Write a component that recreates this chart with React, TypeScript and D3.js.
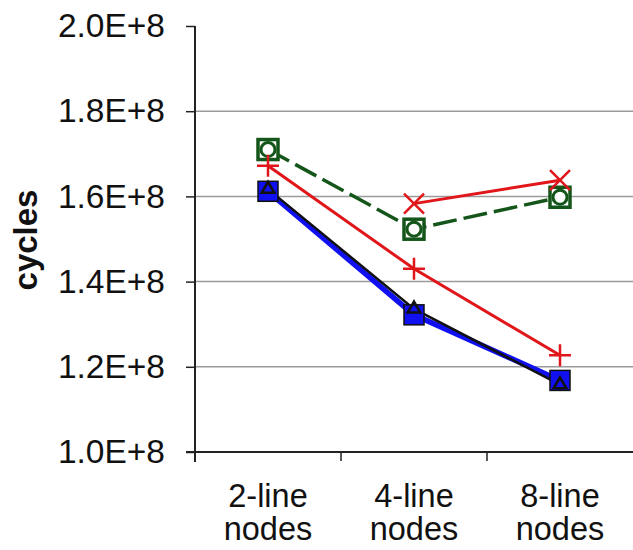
import React, { useRef, useEffect } from 'react';
import * as d3 from 'd3';

const categories = ["2-line nodes", "4-line nodes", "8-line nodes"];
const yTicks = [1.0e8, 1.2e8, 1.4e8, 1.6e8, 1.8e8, 2.0e8];

// series values (cycles), null = no point
const greenCircle = [1.71e8, 1.523e8, 1.598e8];
const redCross = [null, 1.583e8, 1.638e8];
const redPlus = [1.672e8, 1.43e8, 1.227e8];
const blueSquare = [1.612e8, 1.322e8, 1.168e8];
const blackTriangle = [1.617e8, 1.336e8, 1.158e8];

const App = () => {
    const svgRef = useRef(null);

    useEffect(() => {
        const svgWidth = 633;
        const svgHeight = 550;
        const margin = { top: 26, right: 0, bottom: 98, left: 195 };
        const width = svgWidth - margin.left - margin.right;
        const height = svgHeight - margin.top - margin.bottom;
        const font = "Arial, 'Liberation Sans', sans-serif";

        const svg = d3.select(svgRef.current)
            .attr("width", svgWidth)
            .attr("height", svgHeight);
        svg.selectAll("*").remove();

        svg.append("rect").attr("width", svgWidth).attr("height", svgHeight).attr("fill", "#fff");

        const g = svg.append("g").attr("transform", `translate(${margin.left}, ${margin.top})`);

        const xScale = d3.scaleBand().domain(categories).range([0, width]);
        const yScale = d3.scaleLinear().domain([1.0e8, 2.0e8]).range([height, 0]);
        const xc = (i) => xScale(categories[i]) + xScale.bandwidth() / 2;

        // grid
        g.selectAll(".grid")
            .data(yTicks.filter((t) => t > 1.0e8 && t < 2.0e8))
            .enter()
            .append("line")
            .attr("x1", 0)
            .attr("x2", width)
            .attr("y1", (d) => yScale(d))
            .attr("y2", (d) => yScale(d))
            .attr("stroke", "#9a9a9a")
            .attr("stroke-width", 1.5);

        // y axis
        const yAxis = g.append("g")
            .call(d3.axisLeft(yScale).tickValues(yTicks).tickSize(9).tickPadding(21)
                .tickFormat((d) => (d / 1e8).toFixed(1) + "E+8"));
        yAxis.select(".domain").attr("stroke", "#222").attr("stroke-width", 2).attr("d", `M0,0V${height + 10}`);
        yAxis.selectAll(".tick line").attr("stroke", "#222").attr("stroke-width", 1.5);
        yAxis.selectAll("text").attr("font-family", font).attr("font-size", 33.5).attr("fill", "#111");

        // x axis
        const xAxis = g.append("g").attr("transform", `translate(0,${height})`);
        xAxis.append("line").attr("x1", -9).attr("x2", width).attr("stroke", "#222").attr("stroke-width", 2);
        xAxis.selectAll(".xt")
            .data(categories.slice(1))
            .enter()
            .append("line")
            .attr("x1", (d) => xScale(d))
            .attr("x2", (d) => xScale(d))
            .attr("y1", 0)
            .attr("y2", 9)
            .attr("stroke", "#222")
            .attr("stroke-width", 1.5);
        categories.forEach((c, i) => {
            const t = xAxis.append("text")
                .attr("x", xc(i))
                .attr("text-anchor", "middle")
                .attr("font-family", font)
                .attr("font-size", 32.5)
                .attr("fill", "#111");
            const parts = c.split(" ");
            t.append("tspan").attr("x", xc(i)).attr("y", 55).text(parts[0]);
            t.append("tspan").attr("x", xc(i)).attr("y", 88).text(parts[1]);
        });

        // y label
        svg.append("text")
            .attr("transform", `translate(37, 240) rotate(-90)`)
            .attr("text-anchor", "middle")
            .attr("font-family", font)
            .attr("font-weight", "bold")
            .attr("font-size", 33)
            .attr("fill", "#111")
            .text("cycles");

        const line = d3.line()
            .defined((d) => d != null)
            .x((d, i) => xc(i))
            .y((d) => yScale(d));

        const drawLine = (vals, color, w, dash) => {
            g.append("path")
                .datum(vals)
                .attr("fill", "none")
                .attr("stroke", color)
                .attr("stroke-width", w)
                .attr("stroke-dasharray", dash || null)
                .attr("d", line);
        };

        const green = "#14561a";
        const red = "#e0161a";
        const blue = "#1010f0";

        drawLine(greenCircle, green, 3.5, "24,7");
        drawLine(redCross, red, 3);
        drawLine(redPlus, red, 3);
        drawLine(blueSquare, blue, 5.5);
        drawLine(blackTriangle, "#111", 2.5);

        const pts = (vals) => vals.map((v, i) => ({ v, i })).filter((d) => d.v != null);

        // green square + circle markers
        pts(greenCircle).forEach(({ v, i }) => {
            const x = xc(i), y = yScale(v);
            g.append("rect").attr("x", x - 10).attr("y", y - 10).attr("width", 20).attr("height", 20)
                .attr("fill", "#fff").attr("stroke", green).attr("stroke-width", 3.5);
            g.append("circle").attr("cx", x).attr("cy", y).attr("r", 7)
                .attr("fill", "none").attr("stroke", green).attr("stroke-width", 3);
        });

        // blue squares with black triangles
        pts(blueSquare).forEach(({ v, i }) => {
            const x = xc(i), y = yScale(v);
            g.append("rect").attr("x", x - 10).attr("y", y - 10).attr("width", 20).attr("height", 20)
                .attr("fill", blue).attr("stroke", "#111").attr("stroke-width", 1.5);
        });
        pts(blackTriangle).forEach(({ v, i }) => {
            const x = xc(i), y = yScale(v);
            g.append("path")
                .attr("d", d3.symbol(d3.symbolTriangle, 70)())
                .attr("transform", `translate(${x},${y})`)
                .attr("fill", "none").attr("stroke", "#111").attr("stroke-width", 2.5);
        });

        // red x markers
        pts(redCross).forEach(({ v, i }) => {
            const x = xc(i), y = yScale(v);
            g.append("path")
                .attr("d", `M${x - 10},${y - 10}L${x + 10},${y + 10}M${x - 10},${y + 10}L${x + 10},${y - 10}`)
                .attr("stroke", red).attr("stroke-width", 2.5);
        });

        // red + markers
        pts(redPlus).forEach(({ v, i }) => {
            const x = xc(i), y = yScale(v);
            g.append("path")
                .attr("d", `M${x - 11},${y}L${x + 11},${y}M${x},${y - 11}L${x},${y + 11}`)
                .attr("stroke", red).attr("stroke-width", 2.5);
        });
    }, []);

    return (
        <div style={{ position: "absolute", left: 0, top: 0 }}>
            <svg ref={svgRef} style={{ display: "block" }} />
        </div>
    );
};

export default App;
